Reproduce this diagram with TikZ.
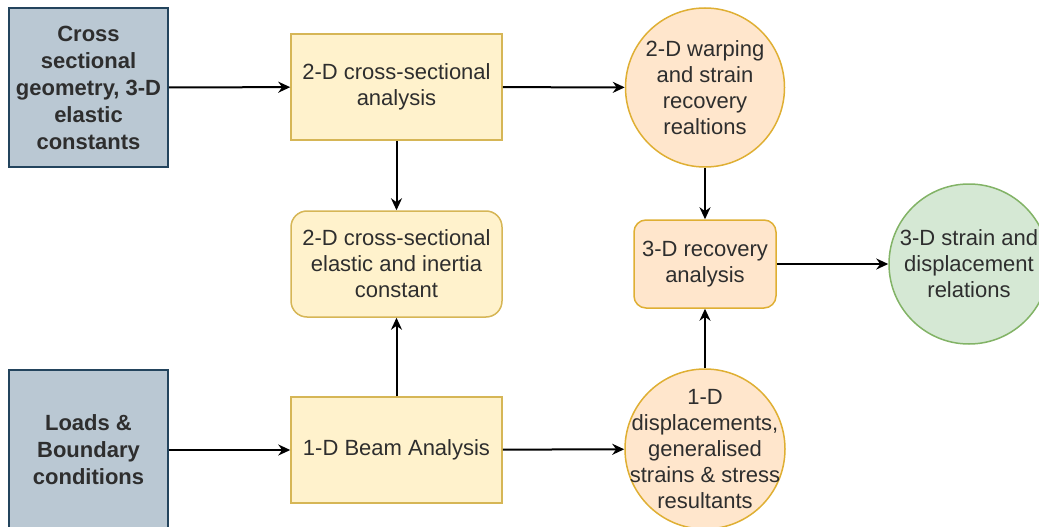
\documentclass[tikz,border=0pt]{standalone}
\usepackage{fontspec}
\setmainfont{Liberation Sans}
\usepackage{xcolor}
\usetikzlibrary{arrows.meta}

\definecolor{inblue}{HTML}{BAC8D3}
\definecolor{inbluedraw}{HTML}{23445D}
\definecolor{boxyel}{HTML}{FFF2CC}
\definecolor{boxyeldraw}{HTML}{D6B656}
\definecolor{boxor}{HTML}{FFE6CC}
\definecolor{boxordraw}{HTML}{D79B00}
\definecolor{outgreen}{HTML}{D5E8D4}
\definecolor{outgreendraw}{HTML}{82B366}
\definecolor{txt}{HTML}{2E2E2E}

\tikzset{
	every node/.style = {text = txt, align = center, inner sep = 0pt, font = \fontsize{22}{26}\selectfont},
	inbox/.style = {draw = inbluedraw, fill = inblue, line width = 1.5pt, minimum width = 159pt, minimum height = 159pt, font = \fontsize{22}{27}\selectfont\bfseries},
	yelbox/.style = {draw = boxyeldraw, fill = boxyel, line width = 1.5pt, minimum width = 211pt, minimum height = 106pt},
	orcirc/.style = {circle, draw = boxordraw!80, fill = boxor, line width = 1.5pt, minimum size = 159pt, inner sep = -25pt},
	link/.style = {line width = 2pt, -{Stealth[length = 12pt, width = 11pt]}}
}

\begin{document}
\begin{tikzpicture}[x = 1pt, y = -1pt]
		\useasboundingbox (0, 0) rectangle (1039, 527);
		% inputs
		\node[inbox] (geom) at (88.5, 87.5) {Cross\\sectional\\geometry, 3-D\\elastic\\constants};
		\node[inbox, minimum height = 160pt] (loads) at (88.5, 450) {Loads \&\\Boundary\\conditions};
		% cross-section and beam
		\node[yelbox] (csa) at (396.5, 87) {2-D cross-sectional\\analysis};
		\node[yelbox, rounded corners = 16pt] (csc) at (396.5, 264) {2-D cross-sectional\\elastic and inertia\\constant};
		\node[yelbox] (beam) at (396.5, 450) {1-D Beam Analysis};
		% recovery
		\node[orcirc] (warp) at (705, 87.5) {2-D warping\\and strain\\recovery\\realtions};
		\node[draw = boxordraw!80, fill = boxor, line width = 1.5pt, rounded corners = 12pt, minimum width = 142pt, minimum height = 88pt] (rec) at (705, 264) {3-D recovery\\analysis};
		\node[orcirc, minimum size = 160pt] (disp) at (705, 449) {1-D\\displacements,\\generalised\\strains \& stress\\resultants};
		\node[circle, draw = outgreendraw, fill = outgreen, line width = 1.5pt, minimum size = 160pt, inner sep = -25pt] (out) at (969, 264) {3-D strain and\\displacement\\relations};
		% connectors
		\draw[link] (geom) -- (csa);
		\draw[link] (loads) -- (beam);
		\draw[link] (csa) -- (warp);
		\draw[link] (csa) -- (csc);
		\draw[link] (beam) -- (csc);
		\draw[link] (beam) -- (disp);
		\draw[link] (warp) -- (rec);
		\draw[link] (disp) -- (rec);
		\draw[link] (rec) -- (out);
	\end{tikzpicture}
\end{document}
